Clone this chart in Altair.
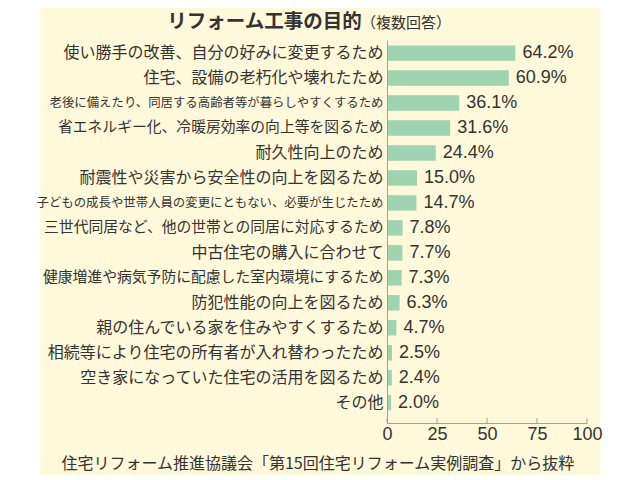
import altair as alt
import pandas as pd

categories = [
    "使い勝手の改善、自分の好みに変更するため",
    "住宅、設備の老朽化や壊れたため",
    "老後に備えたり、同居する高齢者等が暮らしやすくするため",
    "省エネルギー化、冷暖房効率の向上等を図るため",
    "耐久性向上のため",
    "耐震性や災害から安全性の向上を図るため",
    "子どもの成長や世帯人員の変更にともない、必要が生じたため",
    "三世代同居など、他の世帯との同居に対応するため",
    "中古住宅の購入に合わせて",
    "健康増進や病気予防に配慮した室内環境にするため",
    "防犯性能の向上を図るため",
    "親の住んでいる家を住みやすくするため",
    "相続等により住宅の所有者が入れ替わったため",
    "空き家になっていた住宅の活用を図るため",
    "その他",
]
values = [64.2, 60.9, 36.1, 31.6, 24.4, 15.0, 14.7, 7.8, 7.7, 7.3, 6.3, 4.7, 2.5, 2.4, 2.0]
x_ticks = [0, 25, 50, 75, 100]
title_main = "リフォーム工事の目的"
title_note = "（複数回答）"
source_text = "住宅リフォーム推進協議会「第15回住宅リフォーム実例調査」から抜粋"

df = pd.DataFrame({"purpose": categories, "value": values})
ticks_df = pd.DataFrame({"t": x_ticks})
one = pd.DataFrame({"a": [0]})

CREAM = "#FFF8DA"
GREEN = "#A0D3B1"
TEXT = "#333333"
JP = "Noto Sans CJK JP"
NUM = "Liberation Sans"

W, H = 200, 383

y_enc = alt.Y(
    "purpose:N",
    sort=categories,
    scale=alt.Scale(paddingInner=0.38, paddingOuter=0.36, align=0.3),
    axis=alt.Axis(
        title=None,
        domain=True,
        domainColor="#a0a0a0",
        domainWidth=1,
        ticks=False,
        labelPadding=4,
        labelFont=JP,
        labelColor=TEXT,
        labelLimit=0,
        labelFontSize={
            "condition": [
                {"test": "length(datum.value) >= 27", "value": 12.4},
                {"test": "length(datum.value) >= 22", "value": 14.8},
            ],
            "value": 16,
        },
        zindex=1,
    ),
)

x_enc = alt.X(
    "value:Q",
    scale=alt.Scale(domain=[0, 100], nice=False),
    axis=alt.Axis(
        values=x_ticks,
        grid=False,
        ticks=False,
        domain=True,
        domainColor="#a0a0a0",
        domainWidth=1,
        labelFont=NUM,
        labelFontSize=18,
        labelColor=TEXT,
        labelPadding=2,
        labelFlush=False,
        labelOverlap=False,
        title=source_text,
        titleFont=JP,
        titleFontSize=16,
        titleFontWeight="normal",
        titleColor=TEXT,
        titleX=-69.7,
        titleY=40,
        titleAlign="center",
        titleBaseline="middle",
        zindex=1,
    ),
)

background = alt.Chart(one).mark_rect(color=CREAM).encode(
    x=alt.value(-346.7), x2=alt.value(213.3), y=alt.value(-32), y2=alt.value(440)
)

bars = alt.Chart(df).mark_bar(color=GREEN).encode(x=x_enc, y=y_enc)

labels = (
    alt.Chart(df)
    .transform_calculate(label="format(datum.value, '.1f') + '%'")
    .mark_text(align="left", baseline="middle", dx=7, font=NUM, fontSize=18, color=TEXT)
    .encode(x="value:Q", y=alt.Y("purpose:N", sort=categories), text="label:N")
)

tick_marks = alt.Chart(ticks_df).mark_rule(color="#a0a0a0", strokeWidth=1).encode(
    x="t:Q", y=alt.value(H - 5), y2=alt.value(H)
)

title1 = alt.Chart(one).mark_text(
    align="left", baseline="middle", font=JP, fontSize=19.5, fontWeight="bold", color=TEXT
).encode(x=alt.value(-219.7), y=alt.value(-18), text=alt.value(title_main))

title2 = alt.Chart(one).mark_text(
    align="left", baseline="middle", font=JP, fontSize=15, color=TEXT
).encode(x=alt.value(-26), y=alt.value(-17.5), text=alt.value(title_note))

chart = (
    alt.layer(background, bars, labels, tick_marks, title1, title2)
    .properties(
        width=W,
        height=H,
        background="white",
        padding={"left": 379, "top": 32, "right": 45, "bottom": 52},
        autosize=alt.AutoSizeParams(type="none"),
    )
    .configure_view(stroke=None)
)

chart.save("out.html", embed_options={"renderer": "svg", "actions": False})
